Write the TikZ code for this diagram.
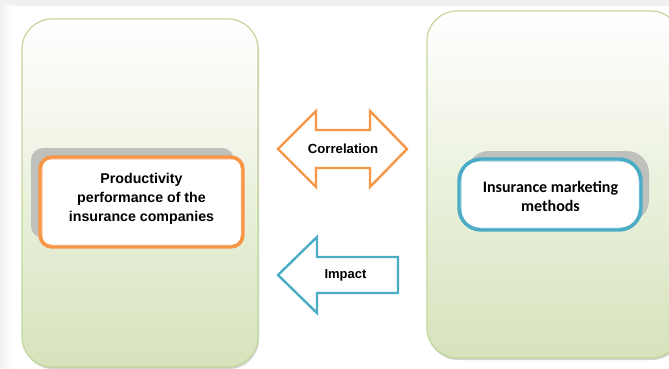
\documentclass[tikz,border=0pt]{standalone}
\usepackage{fontspec}
\setmainfont{Liberation Sans}
\newfontfamily\calib{Carlito}
\usetikzlibrary{shadows}
\definecolor{panelfill}{RGB}{214,227,188}
\definecolor{panelline}{RGB}{196,215,155}
\definecolor{orangeline}{RGB}{247,150,70}
\definecolor{blueline}{RGB}{75,172,198}
\definecolor{shadowgray}{RGB}{190,192,188}
\begin{document}
\begin{tikzpicture}[x=1pt,y=-1pt,
  panel/.style={draw=panelline,line width=1.2pt,rounded corners=30pt,top color=white,bottom color=panelfill,shading angle=0},
  panelshadow/.style={fill=gray!35,rounded corners=30pt},
  boxshadow/.style={fill=shadowgray},
  arrowshape/.style={fill=white,line width=2.4pt,line join=miter},
  txt/.style={inner sep=0pt,align=center}]
\useasboundingbox (0,0) rectangle (669,369);
\clip (0,0) rectangle (669,369);
% page background
\fill[white] (0,0) rectangle (669,369);
\fill[gray!12] (0,0) rectangle (669,6);
\shade[left color=gray!10,right color=white] (0,6) rectangle (13,369);
% panels
\fill[panelshadow] (23,21) rectangle (259,369);
\node[panel,minimum width=236pt,minimum height=348pt,inner sep=0pt] (lpanel) at (140,193) {};
\fill[panelshadow] (428,13) rectangle (682,360);
\node[panel,minimum width=254pt,minimum height=347pt,inner sep=0pt] (rpanel) at (554,184.5) {};
% left inner box
\fill[boxshadow,rounded corners=12pt] (31,148) rectangle (234,238);
\node[draw=orangeline,fill=white,line width=3.4pt,rounded corners=12pt,minimum width=203pt,minimum height=90pt,inner sep=0pt] (lbox) at (141.5,202) {};
\draw[orangeline,line width=0.7pt,rounded corners=9pt] ([shift={(3.6,3.6)}]lbox.north west) rectangle ([shift={(-3.6,-3.6)}]lbox.south east);
\node[txt,font=\bfseries\fontsize{14.2}{19}\selectfont] (ltext) at (141.5,199) {Productivity\\performance of the\\insurance companies};
% right inner box
\fill[boxshadow,rounded corners=22pt] (467,151) rectangle (649,222);
\node[draw=blueline,fill=white,line width=3.4pt,rounded corners=22pt,minimum width=182pt,minimum height=71pt,inner sep=0pt] (rbox) at (550,194.5) {};
\draw[blueline,line width=0.7pt,rounded corners=19pt] ([shift={(3.6,3.6)}]rbox.north west) rectangle ([shift={(-3.6,-3.6)}]rbox.south east);
\node[txt,font=\calib\bfseries\fontsize{16}{19}\selectfont] (rtext) at (550.5,196) {Insurance marketing\\methods};
% correlation double arrow
\draw[arrowshape,draw=orangeline] (278,149) -- (316,111) -- (316,130) -- (370,130) -- (370,111) -- (407,149) -- (370,187) -- (370,168) -- (316,168) -- (316,187) -- cycle;
\node[txt,font=\bfseries\fontsize{13.2}{15}\selectfont] (corr) at (343,149) {Correlation};
% impact arrow
\draw[arrowshape,draw=blueline] (278,275) -- (317,237) -- (317,257) -- (398,257) -- (398,293) -- (317,293) -- (317,313) -- cycle;
\node[txt,font=\bfseries\fontsize{13}{15}\selectfont] (imp) at (345.5,275) {Impact};
\end{tikzpicture}
\end{document}
